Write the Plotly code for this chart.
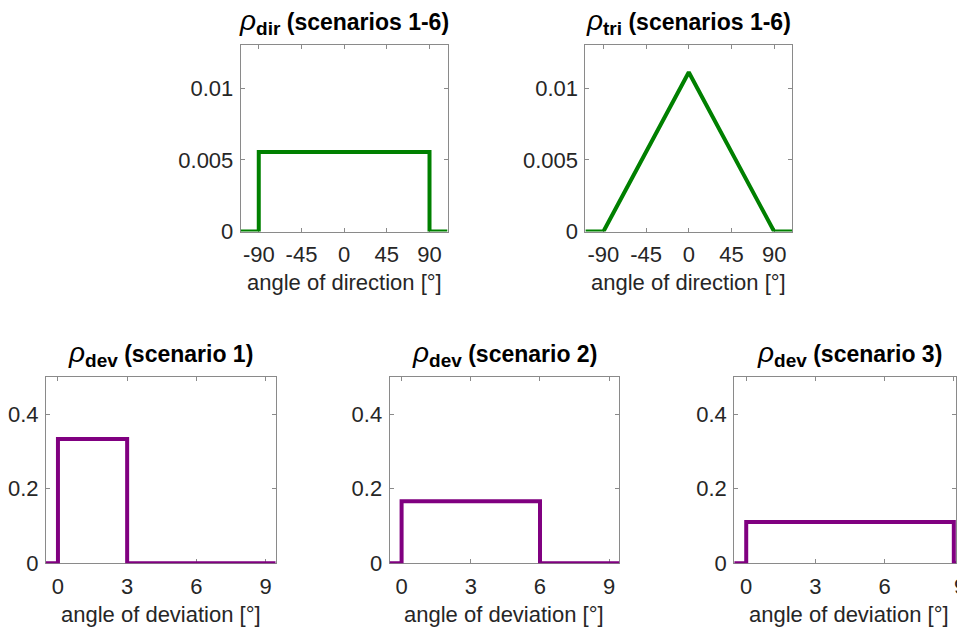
import plotly.graph_objects as go

# ---- data -------------------------------------------------------------
# direction densities (angle in degrees, density per degree)
dir_range = [-109, 109]
dir_angle = [-109, -90, -90, 90, 90, 109]
dir_density = [0, 0, 1 / 180, 1 / 180, 0, 0]

tri_angle = [-109, -90, 0, 90, 109]
tri_density = [0, 0, 1 / 90, 0, 0]

dir_ticks = [-90, -45, 0, 45, 90]
dir_ytick_vals = [0, 0.005, 0.01]
dir_ytick_text = ["0", "0.005", "0.01"]
dir_yrange = [0, 0.013]

# deviation densities (angle in degrees)
dev_range = [-0.52, 9.44]
dev_range_last = [-0.52, 9.095]   # last panel runs off the right edge of the page
dev_angle_1 = [-0.52, 0, 0, 3, 3, 9.44]
dev_density_1 = [0, 0, 1 / 3, 1 / 3, 0, 0]
dev_angle_2 = [-0.52, 0, 0, 6, 6, 9.44]
dev_density_2 = [0, 0, 1 / 6, 1 / 6, 0, 0]
dev_angle_3 = [-0.52, 0, 0, 9, 9, 9.095]
dev_density_3 = [0, 0, 1 / 9, 1 / 9, 0, 0]

dev_ticks = [0, 3, 6, 9]
dev_ytick_vals = [0, 0.2, 0.4]
dev_ytick_text = ["0", "0.2", "0.4"]
dev_yrange = [0, 0.5]

SUB = '<sub><span style="font-size:19px">{}</span></sub>'
RHO = '<span style="font-size:28px"><i>ρ</i></span>'
titles = [
    RHO + "<b>" + SUB.format("dir") + " (scenarios 1-6)</b>",
    RHO + "<b>" + SUB.format("tri") + " (scenarios 1-6)</b>",
    RHO + "<b>" + SUB.format("dev") + " (scenario 1)</b>",
    RHO + "<b>" + SUB.format("dev") + " (scenario 2)</b>",
    RHO + "<b>" + SUB.format("dev") + " (scenario 3)</b>",
]
xlabels = ["angle of direction [°]"] * 2 + ["angle of deviation [°]"] * 3

# ---- layout geometry (pixels) ----------------------------------------
W, H = 957, 630
HV = 615.5          # vertical extent used for placing boxes and labels
FONT = "Liberation Sans"
TXT = "#262626"
AX = "#8a8a8a"
GREEN = "#008000"
PURPLE = "#800080"

# (left, right, top, bottom) of each axes box
boxes = [
    (241, 448, 45, 231),
    (586, 793, 45, 231),
    (46, 276, 376, 562),
    (390, 620, 376, 562),
    (735, 957, 376, 562),
]
centers = [344.5, 689.5, 161, 505, 850]


def px_x(v):
    return v / W


def px_y(v):
    return 1 - v / HV


def axis_common():
    return dict(
        ticks="inside",
        ticklen=4,
        tickwidth=1,
        tickcolor=AX,
        showline=True,
        linecolor=AX,
        linewidth=1,
        mirror="allticks",
        showgrid=False,
        zeroline=False,
        fixedrange=True,
        layer="below traces",
        tickfont=dict(family=FONT, size=22, color=TXT),
    )


series = [
    (dir_angle, dir_density, GREEN),
    (tri_angle, tri_density, GREEN),
    (dev_angle_1, dev_density_1, PURPLE),
    (dev_angle_2, dev_density_2, PURPLE),
    (dev_angle_3, dev_density_3, PURPLE),
]
xranges = [dir_range, dir_range, dev_range, dev_range, dev_range_last]

fig = go.Figure()
layout = {}
annotations = []

for i, ((l, r, t, b), (xs, ys, col)) in enumerate(zip(boxes, series)):
    n = i + 1
    xa = "x" if n == 1 else f"x{n}"
    ya = "y" if n == 1 else f"y{n}"
    fig.add_trace(
        go.Scatter(
            x=xs, y=ys, mode="lines", xaxis=xa, yaxis=ya,
            line=dict(color=col, width=4),
            cliponaxis=False, showlegend=False, hoverinfo="skip",
        )
    )
    top_row = i < 2
    xt = dir_ticks if top_row else dev_ticks
    xax = axis_common()
    xax.update(
        domain=[px_x(l), px_x(r)],
        range=xranges[i],
        tickvals=xt,
        ticktext=[str(v) for v in xt],
        anchor=ya,
        ticklabelstandoff=3,
    )
    yax = axis_common()
    yax.update(
        domain=[px_y(b), px_y(t)],
        range=dir_yrange if top_row else dev_yrange,
        tickvals=dir_ytick_vals if top_row else dev_ytick_vals,
        ticktext=dir_ytick_text if top_row else dev_ytick_text,
        anchor=xa,
        ticklabelstandoff=2,
    )
    layout["xaxis" if n == 1 else f"xaxis{n}"] = xax
    layout["yaxis" if n == 1 else f"yaxis{n}"] = yax

    cx = centers[i]
    annotations.append(dict(
        text=titles[i], xref="paper", yref="paper",
        x=px_x(cx), y=px_y(t - 4), xanchor="center", yanchor="bottom",
        showarrow=False, font=dict(family=FONT, size=23, color="#000000"),
    ))
    annotations.append(dict(
        text=xlabels[i], xref="paper", yref="paper",
        x=px_x(cx), y=px_y(b + 51), xanchor="center", yanchor="middle",
        showarrow=False, font=dict(family=FONT, size=22, color=TXT),
    ))

# the last tick label of the right-most panel sits on the page edge:
# draw it in a narrow clipped text box so only its left part shows
annotations.append(dict(
    text=str(dev_ticks[-1]), xref="x5", yref="paper",
    x=dev_ticks[-1], y=px_y(585), xanchor="center", yanchor="middle",
    xshift=3, width=6, borderpad=0, align="left",
    showarrow=False, font=dict(family=FONT, size=22, color=TXT),
))

fig.update_layout(
    width=W, height=H,
    margin=dict(l=0, r=0, t=0, b=0),
    paper_bgcolor="white", plot_bgcolor="white",
    annotations=annotations,
    **layout,
)

fig.write_html("out.html")
